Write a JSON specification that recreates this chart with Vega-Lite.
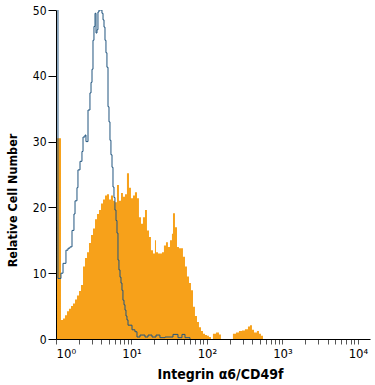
{
  "$schema": "https://vega.github.io/schema/vega-lite/v6.json",
  "width": 314,
  "height": 329,
  "autosize": {"type": "none"},
  "padding": {"left": 56, "top": 10, "right": 5, "bottom": 46},
  "background": "white",
  "config": {
    "view": {"stroke": null},
    "font": "Liberation Sans Narrow, DejaVu Sans Condensed, sans-serif"
  },
  "datasets": {
    "integrin": [
      {"log_intensity": 0.013, "count": 30.5},
      {"log_intensity": 0.066, "count": 2.9},
      {"log_intensity": 0.093, "count": 3.1},
      {"log_intensity": 0.119, "count": 3.6},
      {"log_intensity": 0.146, "count": 4.2},
      {"log_intensity": 0.172, "count": 4.6},
      {"log_intensity": 0.199, "count": 5.0},
      {"log_intensity": 0.225, "count": 5.4},
      {"log_intensity": 0.252, "count": 6.0},
      {"log_intensity": 0.278, "count": 6.6},
      {"log_intensity": 0.305, "count": 7.3},
      {"log_intensity": 0.331, "count": 8.2},
      {"log_intensity": 0.358, "count": 11.0},
      {"log_intensity": 0.384, "count": 12.3},
      {"log_intensity": 0.411, "count": 13.2},
      {"log_intensity": 0.437, "count": 14.6},
      {"log_intensity": 0.464, "count": 15.8},
      {"log_intensity": 0.490, "count": 16.8},
      {"log_intensity": 0.517, "count": 18.2},
      {"log_intensity": 0.543, "count": 19.0},
      {"log_intensity": 0.570, "count": 19.6},
      {"log_intensity": 0.596, "count": 20.6},
      {"log_intensity": 0.623, "count": 21.2},
      {"log_intensity": 0.649, "count": 21.8},
      {"log_intensity": 0.675, "count": 22.0},
      {"log_intensity": 0.702, "count": 21.2},
      {"log_intensity": 0.728, "count": 21.8},
      {"log_intensity": 0.755, "count": 21.0},
      {"log_intensity": 0.781, "count": 20.8},
      {"log_intensity": 0.808, "count": 23.4},
      {"log_intensity": 0.834, "count": 21.0},
      {"log_intensity": 0.861, "count": 22.2},
      {"log_intensity": 0.887, "count": 21.6},
      {"log_intensity": 0.914, "count": 22.0},
      {"log_intensity": 0.940, "count": 25.2},
      {"log_intensity": 0.967, "count": 23.0},
      {"log_intensity": 0.993, "count": 21.4},
      {"log_intensity": 1.020, "count": 21.8},
      {"log_intensity": 1.046, "count": 22.3},
      {"log_intensity": 1.073, "count": 21.4},
      {"log_intensity": 1.099, "count": 18.5},
      {"log_intensity": 1.126, "count": 17.5},
      {"log_intensity": 1.152, "count": 18.5},
      {"log_intensity": 1.179, "count": 19.6},
      {"log_intensity": 1.205, "count": 16.5},
      {"log_intensity": 1.232, "count": 15.5},
      {"log_intensity": 1.258, "count": 13.5},
      {"log_intensity": 1.285, "count": 13.0},
      {"log_intensity": 1.311, "count": 15.0},
      {"log_intensity": 1.325, "count": 13.2},
      {"log_intensity": 1.351, "count": 13.0},
      {"log_intensity": 1.377, "count": 13.0},
      {"log_intensity": 1.404, "count": 13.2},
      {"log_intensity": 1.430, "count": 14.2},
      {"log_intensity": 1.457, "count": 14.7},
      {"log_intensity": 1.483, "count": 14.0},
      {"log_intensity": 1.510, "count": 15.0},
      {"log_intensity": 1.536, "count": 16.0},
      {"log_intensity": 1.550, "count": 19.1},
      {"log_intensity": 1.576, "count": 17.0},
      {"log_intensity": 1.603, "count": 14.0},
      {"log_intensity": 1.629, "count": 13.8},
      {"log_intensity": 1.656, "count": 13.8},
      {"log_intensity": 1.682, "count": 12.5},
      {"log_intensity": 1.709, "count": 11.0},
      {"log_intensity": 1.735, "count": 9.5},
      {"log_intensity": 1.762, "count": 8.5},
      {"log_intensity": 1.788, "count": 7.4},
      {"log_intensity": 1.815, "count": 4.9},
      {"log_intensity": 1.841, "count": 3.5},
      {"log_intensity": 1.868, "count": 2.6},
      {"log_intensity": 1.894, "count": 1.8},
      {"log_intensity": 1.921, "count": 1.2},
      {"log_intensity": 1.947, "count": 0.8},
      {"log_intensity": 1.974, "count": 0.6},
      {"log_intensity": 2.000, "count": 0.5},
      {"log_intensity": 2.026, "count": 0.3},
      {"log_intensity": 2.053, "count": 0.0},
      {"log_intensity": 2.079, "count": 0.8},
      {"log_intensity": 2.119, "count": 1.0},
      {"log_intensity": 2.159, "count": 0.7},
      {"log_intensity": 2.185, "count": 0.0},
      {"log_intensity": 2.344, "count": 0.8},
      {"log_intensity": 2.384, "count": 1.0},
      {"log_intensity": 2.424, "count": 1.2},
      {"log_intensity": 2.464, "count": 1.3},
      {"log_intensity": 2.503, "count": 1.5},
      {"log_intensity": 2.543, "count": 1.9},
      {"log_intensity": 2.570, "count": 2.1},
      {"log_intensity": 2.596, "count": 1.4},
      {"log_intensity": 2.623, "count": 1.0},
      {"log_intensity": 2.662, "count": 1.2},
      {"log_intensity": 2.689, "count": 0.8},
      {"log_intensity": 2.715, "count": 0.5},
      {"log_intensity": 2.742, "count": 0.0}
    ],
    "control": [
      {"log_intensity": 0.000, "count": 52.0},
      {"log_intensity": 0.026, "count": 9.2},
      {"log_intensity": 0.066, "count": 10.0},
      {"log_intensity": 0.093, "count": 11.5},
      {"log_intensity": 0.132, "count": 13.5},
      {"log_intensity": 0.159, "count": 13.8},
      {"log_intensity": 0.185, "count": 14.0},
      {"log_intensity": 0.212, "count": 16.5},
      {"log_intensity": 0.238, "count": 19.0},
      {"log_intensity": 0.252, "count": 21.0},
      {"log_intensity": 0.278, "count": 23.0},
      {"log_intensity": 0.291, "count": 25.7},
      {"log_intensity": 0.318, "count": 27.0},
      {"log_intensity": 0.344, "count": 28.5},
      {"log_intensity": 0.358, "count": 30.7},
      {"log_intensity": 0.384, "count": 31.0},
      {"log_intensity": 0.397, "count": 30.0},
      {"log_intensity": 0.424, "count": 34.8},
      {"log_intensity": 0.450, "count": 37.4},
      {"log_intensity": 0.464, "count": 39.0},
      {"log_intensity": 0.477, "count": 41.0},
      {"log_intensity": 0.490, "count": 45.4},
      {"log_intensity": 0.503, "count": 47.5},
      {"log_intensity": 0.517, "count": 49.5},
      {"log_intensity": 0.530, "count": 46.5},
      {"log_intensity": 0.543, "count": 47.0},
      {"log_intensity": 0.556, "count": 49.7},
      {"log_intensity": 0.570, "count": 50.0},
      {"log_intensity": 0.609, "count": 49.5},
      {"log_intensity": 0.623, "count": 48.5},
      {"log_intensity": 0.636, "count": 47.4},
      {"log_intensity": 0.649, "count": 45.4},
      {"log_intensity": 0.662, "count": 43.5},
      {"log_intensity": 0.675, "count": 41.3},
      {"log_intensity": 0.689, "count": 35.3},
      {"log_intensity": 0.702, "count": 33.0},
      {"log_intensity": 0.715, "count": 30.2},
      {"log_intensity": 0.728, "count": 28.0},
      {"log_intensity": 0.742, "count": 26.1},
      {"log_intensity": 0.755, "count": 23.1},
      {"log_intensity": 0.768, "count": 21.5},
      {"log_intensity": 0.781, "count": 19.6},
      {"log_intensity": 0.795, "count": 18.0},
      {"log_intensity": 0.808, "count": 16.1},
      {"log_intensity": 0.821, "count": 12.0},
      {"log_intensity": 0.834, "count": 10.5},
      {"log_intensity": 0.848, "count": 9.4},
      {"log_intensity": 0.861, "count": 8.5},
      {"log_intensity": 0.874, "count": 7.4},
      {"log_intensity": 0.887, "count": 5.9},
      {"log_intensity": 0.901, "count": 5.2},
      {"log_intensity": 0.914, "count": 4.4},
      {"log_intensity": 0.927, "count": 3.5},
      {"log_intensity": 0.940, "count": 2.9},
      {"log_intensity": 0.954, "count": 2.1},
      {"log_intensity": 1.007, "count": 1.4},
      {"log_intensity": 1.046, "count": 1.1},
      {"log_intensity": 1.073, "count": 0.3},
      {"log_intensity": 1.113, "count": 0.6},
      {"log_intensity": 1.179, "count": 0.3},
      {"log_intensity": 1.219, "count": 0.6},
      {"log_intensity": 1.272, "count": 0.3},
      {"log_intensity": 1.325, "count": 0.6},
      {"log_intensity": 1.377, "count": 0.2},
      {"log_intensity": 1.444, "count": 0.3},
      {"log_intensity": 1.550, "count": 0.7},
      {"log_intensity": 1.616, "count": 0.2},
      {"log_intensity": 1.669, "count": 0.7},
      {"log_intensity": 1.709, "count": 0.2},
      {"log_intensity": 1.775, "count": 0.0}
    ]
  },
  "encoding": {
    "x": {
      "field": "log_intensity",
      "type": "quantitative",
      "scale": {"domain": [0, 4.16], "nice": false, "zero": false},
      "axis": {
        "values": [0, 0.301, 0.477, 0.602, 0.699, 0.778, 0.845, 0.903, 0.954, 1, 1.301, 1.477, 1.602, 1.699, 1.778, 1.845, 1.903, 1.954, 2, 2.301, 2.477, 2.602, 2.699, 2.778, 2.845, 2.903, 2.954, 3, 3.301, 3.477, 3.602, 3.699, 3.778, 3.845, 3.903, 3.954, 4],
        "labelExpr": "datum.value === 0 ? '10⁰' : datum.value === 1 ? '10¹' : datum.value === 2 ? '10²' : datum.value === 3 ? '10³' : datum.value === 4 ? '10⁴' : ' '",
        "labelOverlap": false,
        "labelBound": false,
        "labelFlush": true,
        "labelFontSize": 13,
        "labelColor": "black",
        "labelPadding": 3,
        "tickSize": 5,
        "tickColor": "#555",
        "domainColor": "black",
        "grid": false,
        "title": "Integrin α6/CD49f",
        "titleFontSize": 14,
        "titleFontWeight": "bold",
        "titleColor": "black",
        "titleX": 164,
        "titleY": 39,
        "titleAlign": "center",
        "titleBaseline": "alphabetic"
      }
    },
    "y": {
      "field": "count",
      "type": "quantitative",
      "scale": {"domain": [0, 50], "nice": false},
      "axis": {
        "values": [0, 10, 20, 30, 40, 50],
        "labelFontSize": 12,
        "labelColor": "black",
        "labelPadding": 2,
        "tickSize": 8,
        "tickColor": "black",
        "domainColor": "black",
        "grid": false,
        "title": "Relative Cell Number",
        "titleFontSize": 12.5,
        "titleFontWeight": "bold",
        "titleColor": "black",
        "titleAngle": 270,
        "titleX": -40,
        "titleY": 190,
        "titleAlign": "center",
        "titleBaseline": "alphabetic"
      }
    }
  },
  "layer": [
    {
      "data": {"name": "integrin"},
      "mark": {"type": "area", "interpolate": "step-after", "color": "#F7A11A", "clip": true}
    },
    {
      "data": {"name": "control"},
      "mark": {"type": "line", "interpolate": "step-after", "color": "#21557f", "strokeWidth": 1, "clip": true}
    }
  ]
}
